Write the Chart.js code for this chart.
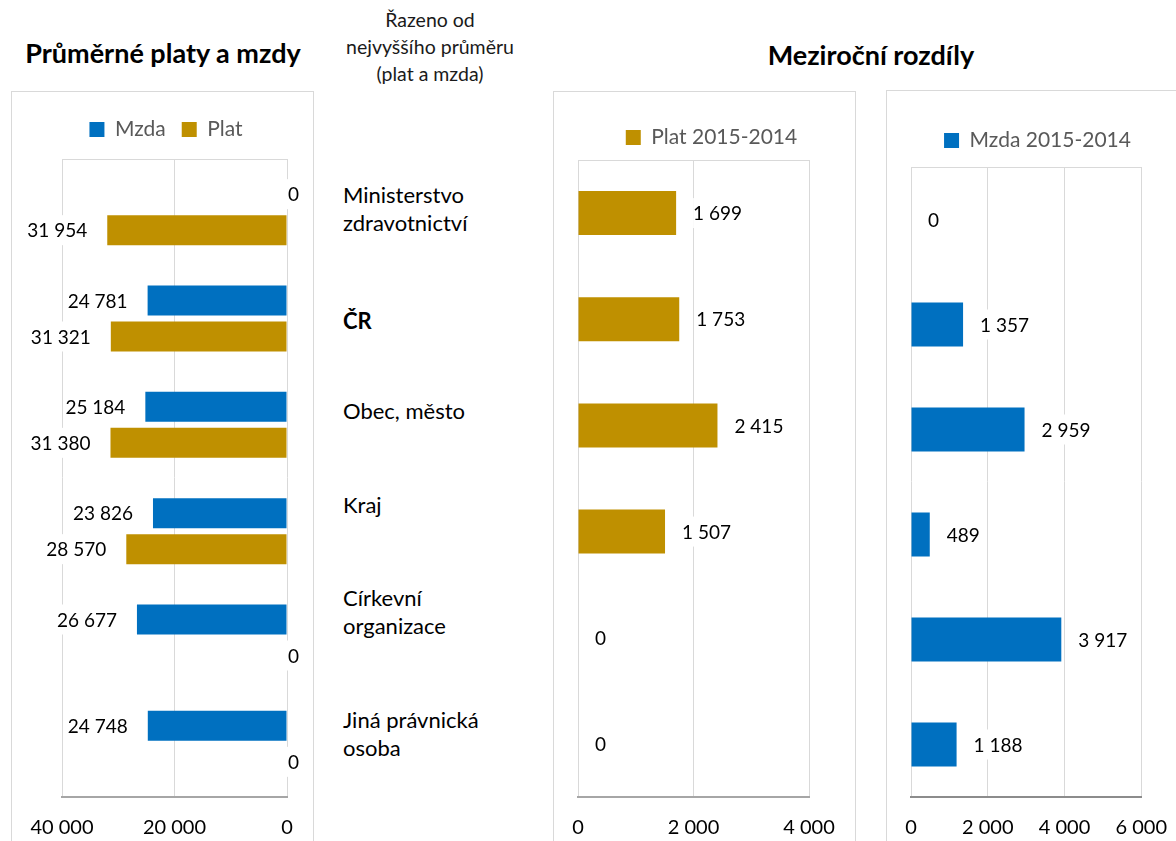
<!DOCTYPE html>
<html>
<head>
<meta charset="utf-8">
<script src="https://cdn.jsdelivr.net/npm/chart.js@4.4.1/dist/chart.umd.min.js"></script>
<style>
  html, body { margin:0; padding:0; background:#fff; width:1176px; height:841px; overflow:hidden; }
  body { position:relative; font-family: Lato, "Open Sans", sans-serif; }
  .frame { position:absolute; border:1px solid #D9D9D9; box-sizing:border-box; }
  canvas { position:absolute; }
  .title { position:absolute; font-weight:bold; font-size:27px; line-height:32px; color:#000; white-space:nowrap; text-align:center; }
  .note { position:absolute; font-size:19.5px; color:#1a1a1a; text-align:center; line-height:27px; white-space:nowrap; }
  .cat { position:absolute; left:343px; font-size:22px; line-height:28px; color:#000; white-space:nowrap; }
</style>
</head>
<body>
<div class="frame" style="left:11px;top:91px;width:303px;height:820px"></div>
<div class="frame" style="left:553px;top:91px;width:303px;height:820px"></div>
<div class="frame" style="left:886px;top:90px;width:400px;height:820px"></div>

<div class="title" style="left:13px;top:37px;width:300px">Průměrné platy a mzdy</div>
<div class="title" style="left:721px;top:39px;width:300px">Meziroční rozdíly</div>
<div class="note" style="left:330px;top:6px;width:200px">Řazeno od<br>nejvyššího průměru<br>(plat a mzda)</div>
<div id="cats"></div>

<canvas id="cLeft" width="302" height="750" style="left:11px;top:91px"></canvas>
<canvas id="cMid" width="302" height="750" style="left:553px;top:91px"></canvas>
<canvas id="cRight" width="300" height="751" style="left:886px;top:90px"></canvas>

<script>
// ---------------- DATA ----------------
const categories = ["Ministerstvo zdravotnictví", "ČR", "Obec, město", "Kraj", "Církevní organizace", "Jiná právnická osoba"];
const categoryLines = [["Ministerstvo", "zdravotnictví"], ["ČR"], ["Obec, město"], ["Kraj"], ["Církevní", "organizace"], ["Jiná právnická", "osoba"]];
const mzda = [0, 24781, 25184, 23826, 26677, 24748];
const plat = [31954, 31321, 31380, 28570, 0, 0];
const platDiff = [1699, 1753, 2415, 1507, 0, 0];
const mzdaDiff = [0, 1357, 2959, 489, 3917, 1188];
const leftTicks = [0, 20000, 40000];
const midTicks = [0, 2000, 4000];
const rightTicks = [0, 2000, 4000, 6000];

// ---------------- STYLE ----------------
const BLUE = '#0070C0';
const GOLD = '#BF9000';
const FONT = 'Lato, "Open Sans", sans-serif';
const fmt = v => String(v).replace(/\B(?=(\d{3})+(?!\d))/g, '\u00a0');

// category labels (text boxes between panels)
const catTops = [181, 307, 397, 491, 584, 706];
const catsDiv = document.getElementById('cats');
categoryLines.forEach((lines, i) => {
  const d = document.createElement('div');
  d.className = 'cat';
  d.style.top = catTops[i] + 'px';
  if (categories[i] === 'ČR') d.style.fontWeight = 'bold';
  d.innerHTML = lines.join('<br>');
  catsDiv.appendChild(d);
});

const valueLabels = {
  id: 'valueLabels',
  afterDatasetsDraw(chart, args, opts) {
    const ctx = chart.ctx;
    ctx.save();
    ctx.font = '19px ' + FONT;
    ctx.textBaseline = 'middle';
    ctx.textAlign = 'left';
    chart.data.datasets.forEach((ds, di) => {
      const meta = chart.getDatasetMeta(di);
      meta.data.forEach((bar, i) => {
        const v = ds.data[i];
        const txt = fmt(v);
        const w = ctx.measureText(txt).width;
        let x;
        if (opts.reverse) {
          x = (v === 0) ? bar.base + 1 : bar.x - opts.gap - w;
        } else {
          x = bar.x + opts.gap;
        }
        ctx.fillStyle = '#fff';
        ctx.fillRect(x - opts.padX, bar.y - 15, w + 2 * opts.padX, 30);
        ctx.fillStyle = '#000';
        ctx.fillText(txt, x, bar.y + 1);
      });
    });
    ctx.restore();
  }
};

const topLine = {
  id: 'topLine',
  beforeDatasetsDraw(chart) {
    const a = chart.chartArea, ctx = chart.ctx;
    ctx.save();
    ctx.strokeStyle = '#D9D9D9';
    ctx.lineWidth = 1;
    ctx.beginPath();
    ctx.moveTo(a.left, a.top + 0.5);
    ctx.lineTo(a.right, a.top + 0.5);
    ctx.stroke();
    ctx.restore();
  }
};

function makeChart(id, cfg) {
  const xScale = {
    type: 'linear',
    position: 'bottom',
    min: cfg.ticks[0],
    max: cfg.ticks[cfg.ticks.length - 1],
    reverse: !!cfg.reverse,
    afterBuildTicks: s => { s.ticks = cfg.ticks.map(v => ({ value: v })); },
    afterFit: s => { s.height = 44; },
    grid: { color: '#D9D9D9', lineWidth: 1, drawTicks: false },
    border: { color: cfg.axisColor, width: 2 },
    ticks: {
      padding: 19,
      color: '#000',
      font: { family: FONT, size: 20 },
      callback: v => fmt(v),
      maxRotation: 0
    }
  };
  return new Chart(document.getElementById(id), {
    type: 'bar',
    data: { labels: categories, datasets: cfg.datasets },
    options: {
      responsive: false,
      animation: false,
      indexAxis: 'y',
      layout: { padding: { left: cfg.padL, right: cfg.padR, top: cfg.padT, bottom: 0 } },
      scales: {
        x: xScale,
        xt: {
          type: 'linear', axis: 'x', position: 'top', min: 0, max: 1,
          ticks: { display: false }, grid: { display: false, drawTicks: false }, border: { display: false },
          afterFit: s => { s.height = cfg.topGap; }
        },
        y: {
          type: 'category',
          position: cfg.yPos,
          ticks: { display: false },
          grid: { display: false, drawTicks: false },
          border: { display: false },
          afterFit: s => { s.width = cfg.yW; }
        }
      },
      plugins: {
        legend: {
          position: 'top',
          labels: {
            color: '#595959',
            font: { family: FONT, size: 21 },
            boxWidth: 15, boxHeight: 15,
            padding: cfg.legPad
          }
        },
        tooltip: { enabled: false },
        valueLabels: { reverse: !!cfg.reverse, gap: cfg.gap, padX: cfg.padX }
      }
    },
    plugins: [valueLabels, topLine]
  });
}

makeChart('cLeft', {
  ticks: leftTicks, reverse: true, axisColor: '#A6A6A6',
  padL: 34, padR: 26, padT: 12, topGap: 9, yPos: 'left', yW: 17, legPad: 16,
  gap: 20, padX: 2,
  datasets: [
    { label: 'Mzda', data: mzda, backgroundColor: BLUE, borderWidth: 0, categoryPercentage: 0.677, barPercentage: 0.833 },
    { label: 'Plat', data: plat, backgroundColor: GOLD, borderWidth: 0, categoryPercentage: 0.677, barPercentage: 0.833 }
  ]
});

makeChart('cMid', {
  ticks: midTicks, reverse: false, axisColor: '#A6A6A6',
  padL: 25, padR: 10, padT: 26, topGap: 2, yPos: 'right', yW: 36, legPad: 10,
  gap: 17, padX: 0,
  datasets: [
    { label: 'Plat 2015-2014', data: platDiff, backgroundColor: GOLD, borderWidth: 0, categoryPercentage: 0.415, barPercentage: 1 }
  ]
});

makeChart('cRight', {
  ticks: rightTicks, reverse: false, axisColor: '#8C8C8C',
  padL: 25, padR: 22, padT: 30, topGap: 6, yPos: 'right', yW: 21, legPad: 10,
  gap: 17, padX: 2,
  datasets: [
    { label: 'Mzda 2015-2014', data: mzdaDiff, backgroundColor: BLUE, borderWidth: 0, categoryPercentage: 0.418, barPercentage: 1 }
  ]
});
</script>
</body>
</html>
